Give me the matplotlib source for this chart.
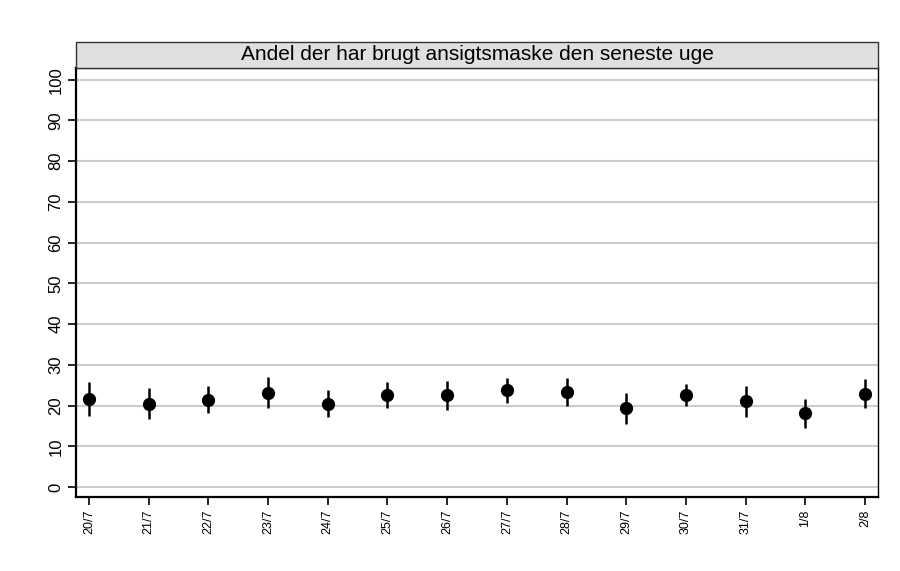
import numpy as np
import matplotlib.pyplot as plt
from matplotlib.patches import Rectangle

# data
dates = ["20/7", "21/7", "22/7", "23/7", "24/7", "25/7", "26/7",
         "27/7", "28/7", "29/7", "30/7", "31/7", "1/8", "2/8"]
share = [21.7, 20.4, 21.4, 23.1, 20.5, 22.7, 22.5,
         23.75, 23.3, 19.3, 22.7, 21.1, 18.1, 22.9]
ci_low = [17.5, 16.7, 18.2, 19.3, 17.25, 19.4, 19.0,
          20.7, 19.8, 15.4, 19.8, 17.25, 14.4, 19.4]
ci_high = [25.8, 24.2, 24.75, 26.9, 23.8, 25.8, 26.0,
           26.7, 26.7, 23.2, 25.4, 24.8, 21.5, 26.4]
title = "Andel der har brugt ansigtsmaske den seneste uge"

plt.rcParams['font.family'] = ['Liberation Sans', 'DejaVu Sans']

fig = plt.figure(figsize=(9, 5.71), dpi=100)
ax = fig.add_axes([0.0844, 0.1296, 0.8912, 0.7514])

x = np.arange(len(dates))
share = np.array(share)
yerr = [share - np.array(ci_low), np.array(ci_high) - share]

ax.errorbar(x, share, yerr=yerr, fmt='o', color='black', markersize=8.5,
            elinewidth=1.8, capsize=0, zorder=3)

ax.set_xlim(-0.22, len(dates) - 1 + 0.22)
ax.set_ylim(-2.46, 102.9)
ax.set_yticks(np.arange(0, 101, 10))
ax.set_xticks(x)
ax.set_xticklabels(dates, rotation=90, fontsize=9)
for lbl in ax.get_yticklabels():
    lbl.set_rotation(90)
    lbl.set_verticalalignment('center')
ax.tick_params(axis='y', labelsize=12, length=6, width=1.2, pad=3)
ax.tick_params(axis='x', length=6, width=1.2, pad=3)

ax.yaxis.grid(True, color='#cccccc', linewidth=1.5)
ax.set_axisbelow(True)

for side in ['left', 'bottom', 'top']:
    ax.spines[side].set_linewidth(1.6)
ax.spines['right'].set_linewidth(1.0)

# strip title box above the plot
strip = Rectangle((0.0844, 0.881), 0.8912, 0.0454, transform=fig.transFigure,
                  facecolor='#e0e0e0', edgecolor='#333333', linewidth=1.0)
fig.patches.append(strip)
fig.text(0.0844 + 0.8912 / 2, 0.881 + 0.0454 / 2, title, ha='center',
         va='center', fontsize=15)

plt.savefig('out.png', dpi=100)
plt.close()
